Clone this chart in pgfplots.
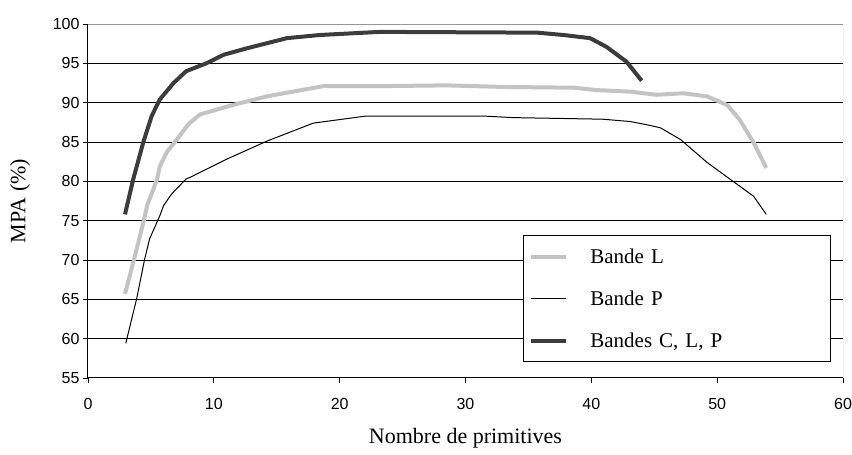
\documentclass[border=0pt]{standalone}
\usepackage{pgfplots}
\pgfplotsset{compat=1.18}
\usepackage{fontspec}
\setmainfont{Liberation Serif}
\newfontfamily\ticksans{Liberation Sans}
\definecolor{lgray}{RGB}{195,195,195}
\definecolor{dgray}{RGB}{60,60,60}
\definecolor{bgray}{RGB}{150,150,150}
\begin{document}
\begin{tikzpicture}[x=1pt,y=1pt]
\path[use as bounding box] (-88,-77) rectangle (764,378);
\begin{axis}[
  at={(0,0)}, anchor=south west,
  scale only axis, width=755pt, height=354pt,
  xmin=0, xmax=60, ymin=55, ymax=100,
  xtick={0,10,...,60}, ytick={55,60,...,100},
  axis x line*=bottom, axis y line*=left,
  axis line style={black, line width=1pt},
  ymajorgrids, grid style={black, line width=1pt},
  tick style={black, line width=0.8pt},
  tick align=outside, major tick length=5pt,
  /pgf/number format/assume math mode=true,
  ticklabel style={font=\ticksans\fontsize{16}{16}\selectfont},
  xticklabel style={yshift=-12pt},
  xlabel={Nombre de primitives},
  ylabel={MPA (\%)},
  label style={font=\fontsize{22}{22}\selectfont},
  xlabel style={at={(axis description cs:0.5,0)}, anchor=center, yshift=-60pt},
  ylabel style={at={(axis description cs:-0.09,0.5)}, anchor=center},
  legend style={at={(0.576,0.404)}, anchor=north west, draw=black, line width=1pt,
    fill=white, inner xsep=6pt, inner ysep=10pt, row sep=20pt,
    font=\fontsize{21}{21}\selectfont,
    nodes={anchor=west, text width=212pt, inner xsep=22pt, inner ysep=3pt}},
  legend image code/.code={\draw[#1] (0pt,0pt) -- (35pt,0pt);},
  legend cell align=left,
]
\draw[bgray, line width=1pt] (rel axis cs:0,1) -- (rel axis cs:1,1) -- (rel axis cs:1,0);
\addplot[lgray, line width=4pt, line join=round] coordinates {
(2.94,65.7) (3.6,69.7) (4.4,74.8) (4.7,76.9) (5.5,80.3) (5.7,81.9) (6.3,83.8) (7.05,85.3) (8.0,87.3) (8.9,88.5)
(11.5,89.7) (14.2,90.8) (18.7,92.1) (23.2,92.1) (28.5,92.2) (33,92.0) (38.6,91.9)
(40.4,91.6) (43.1,91.4) (45.2,91.0) (47.3,91.2) (49.2,90.8) (50.8,89.7) (51.8,87.8)
(52.9,84.9) (53.9,81.7)};
\addlegendentry{Bande L}
\addplot[black, line width=1pt, line join=round] coordinates {
(3.0,59.4) (3.87,65.1) (4.5,70.1) (4.9,72.7) (5.7,75.6) (6.0,76.9) (6.65,78.4) (7.8,80.3)
(8.1,80.5) (11,82.8) (14.2,85.1) (17.9,87.4) (22.1,88.3) (31.4,88.3) (33.8,88.1)
(40.9,87.9) (43.1,87.6) (44.4,87.2) (45.5,86.8) (47.1,85.3) (49.2,82.4) (51.0,80.3)
(52.9,78.1) (53.9,75.8)};
\addlegendentry{Bande P}
\addplot[dgray, line width=4pt, line join=round] coordinates {
(2.94,75.8) (3.6,80.3) (4.4,85) (5.06,88.3) (5.7,90.4) (6.8,92.5) (7.8,94) (9.4,95)
(10.8,96.1) (12.6,96.9) (15.8,98.2) (18.4,98.6) (23.2,99.0) (35.7,98.9) (37.8,98.6)
(39.9,98.2) (41.2,97.1) (42.8,95.2) (44.0,92.8)};
\addlegendentry{Bandes C, L, P}
\end{axis}
\end{tikzpicture}
\end{document}
